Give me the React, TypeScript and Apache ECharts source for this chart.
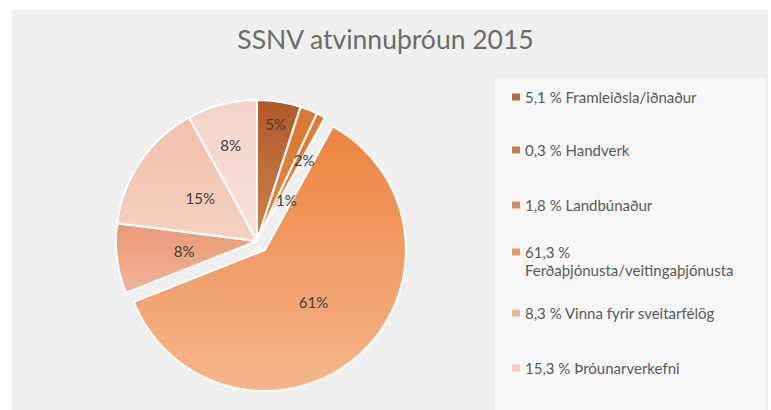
import React, { useEffect, useRef } from "react";
import * as echarts from "echarts";

const titleText = "SSNV atvinnuþróun 2015";
const categories = [
  "5,1 % Framleiðsla/iðnaður",
  "0,3 % Handverk",
  "1,8 % Landbúnaður",
  "61,3 % Ferðaþjónusta/veitingaþjónusta",
  "8,3 % Vinna fyrir sveitarfélög",
  "15,3 % Þróunarverkefni",
  "7,9 % Annað",
];
// slice shares
const sliceValues = [5, 2, 1, 61, 8, 15, 8];
const legendCount = 6;
const wrappedIndex = 3;

// styles (kept apart from the data)
const topColors = ["#b0582a", "#d9762f", "#dc7a35", "#ec843f", "#eb9a74", "#f1c0aa", "#f4d3c6"];
const bottomColors = ["#cf8450", "#e38a48", "#e28a4a", "#f5b68e", "#f0b399", "#f5d1c2", "#f8e2d9"];
const legendColors = ["#b5693c", "#c87a46", "#d68e5f", "#e39d6c", "#ebb69d", "#f0cfc8"];
const legendTops = [88, 141, 196, 243, 304, 359];
const labelShift = [
  [7, -44],
  [20, -13],
  [-4, 24],
  [0, -3],
  [0, 1],
  [4, -2],
  [-8, -25],
];

export default function App() {
  const ref = useRef<HTMLDivElement>(null);
  useEffect(() => {
    if (!ref.current) return;
    const chart = echarts.init(ref.current, null, { renderer: "svg" });
    const font = "Lato, 'Open Sans', sans-serif";
    const legendText = { fontFamily: font, fontSize: 15, color: "#595959", lineHeight: 18 };
    const splitAt = (n: string) => n.indexOf("% ") + 1;
    const legends = categories.slice(0, legendCount).map((name, i) => ({
      data: [name],
      orient: "vertical",
      left: 512,
      top: legendTops[i],
      padding: 0,
      icon: "rect",
      itemWidth: 8,
      itemHeight: 7,
      selectedMode: false,
      itemStyle: { color: legendColors[i], borderWidth: 0 },
      formatter: (n: string) => (i === wrappedIndex ? n.slice(0, splitAt(n)) : n),
      textStyle: legendText,
    }));
    const wrappedName = categories[wrappedIndex];
    chart.setOption({
      animation: false,
      backgroundColor: "#ffffff",
      title: {
        text: titleText,
        left: "center",
        top: 20,
        textStyle: { fontFamily: font, fontSize: 26.5, fontWeight: "normal", color: "#6b6b6b" },
      },
      graphic: [
        { type: "rect", z: -10, shape: { x: 12, y: 10, width: 756, height: 400 }, style: { fill: "#efefef" } },
        { type: "rect", z: -9, shape: { x: 495, y: 78, width: 270, height: 332 }, style: { fill: "#f7f7f7" } },
        {
          type: "text",
          x: 525,
          y: 270,
          style: {
            text: wrappedName.slice(splitAt(wrappedName) + 1),
            font: `15px ${font}`,
            fill: "#595959",
            verticalAlign: "middle",
          },
        },
      ],
      legend: legends,
      series: [
        {
          type: "pie",
          center: [257, 241],
          radius: 141,
          startAngle: 90,
          clockwise: true,
          selectedMode: "multiple",
          selectedOffset: 12,
          avoidLabelOverlap: false,
          itemStyle: { borderColor: "#ffffff", borderWidth: 2 },
          emphasis: { disabled: true },
          label: {
            position: "inside",
            fontFamily: font,
            fontSize: 15,
            color: "#404040",
            formatter: (p: any) => Math.round(p.percent) + "%",
          },
          labelLayout: (p: any) => ({ dx: labelShift[p.dataIndex][0], dy: labelShift[p.dataIndex][1] }),
          data: categories.map((name, i) => ({
            name,
            value: sliceValues[i],
            selected: i === wrappedIndex,
            itemStyle: {
              color: new echarts.graphic.LinearGradient(0, 0, 0, 1, [
                { offset: 0, color: topColors[i] },
                { offset: 1, color: bottomColors[i] },
              ]),
            },
          })),
        },
      ],
    });
    return () => chart.dispose();
  }, []);
  return <div ref={ref} style={{ position: "fixed", left: 0, top: 0, width: 771, height: 410 }} />;
}
